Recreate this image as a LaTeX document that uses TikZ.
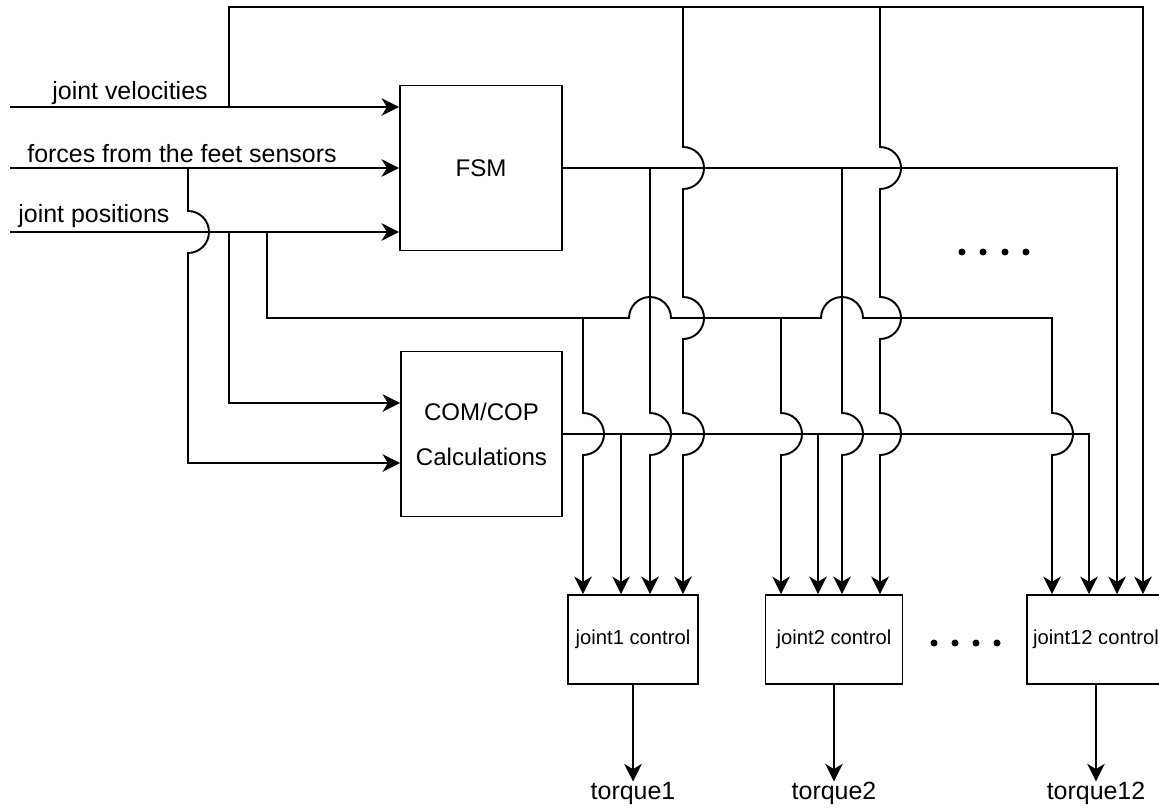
\documentclass[tikz,border=0pt]{standalone}
\usepackage{fontspec}
\setmainfont{Liberation Sans}
\usepackage{tikz}
\usetikzlibrary{arrows.meta}

\tikzset{
    block/.style={draw, line width=1pt, inner sep=0pt, align=center},
    wire/.style={line width=1.1pt},
    tag/.style={font=\fontsize{14.2}{17}\selectfont, inner sep=0pt},
    ctrl/.style={block, minimum height=1.78cm, font=\fontsize{11.5}{14}\selectfont},
}

\begin{document}
\begin{tikzpicture}[x=0.02cm, y=-0.02cm, >={Stealth[length=10pt, width=10pt, inset=3pt]}]
    \useasboundingbox (0,0) rectangle (1159,808);
    \coordinate (in1) at (10,107);
    \coordinate (in2) at (10,168);
    \coordinate (in3) at (10,232);
    \node[block, minimum width=3.24cm, minimum height=3.3cm, font=\fontsize{13.7}{16}\selectfont] (fsm) at (481,168) {FSM};
    \node[block, minimum width=3.22cm, minimum height=3.3cm, font=\fontsize{13.7}{25.6}\selectfont] (com) at (481.5,434) {COM/COP\\Calculations};
    \node[ctrl, minimum width=2.6cm] (jc1) at (633,639.5) {joint1 control};
    \node[ctrl, minimum width=2.74cm] (jc2) at (834,639.5) {joint2 control};
    \node[ctrl, minimum width=2.76cm] (jc12) at (1096,639.5) {joint12 control};
    \node[tag] (tq1) at (633,793) {torque1};
    \node[tag] (tq2) at (834,793) {torque2};
    \node[tag] (tq12) at (1096,793) {torque12};
    \node[tag, anchor=base west] (lvel) at (52,99) {joint velocities};
    \node[tag, anchor=base west] (lfrc) at (27,162) {forces from the feet sensors};
    \node[tag, anchor=base west] (lpos) at (18,222) {joint positions};

    \draw[wire, ->] (in1) -- (in1 -| fsm.west);
    \draw[wire, ->] (in2) -- (in2 -| fsm.west);
    \draw[wire, ->] (in3) -- (in3 -| fsm.west);

    \draw[wire, ->] (188,168) -- (188,211) arc[start angle=-90, end angle=90, radius=21] -- (188,463) -- (com.west |- 0,463);
    \draw[wire, ->] (229,232) -- (229,403) -- (com.west |- 0,403);

    \draw[wire, ->] (229,107) -- (229,7) -- (1143,7) -- (1143,0 |- jc12.north);
    \draw[wire, ->] (683,7) -- (683,147) arc[start angle=-90, end angle=90, radius=21] -- (683,297) arc[start angle=-90, end angle=90, radius=21] -- (683,413) arc[start angle=-90, end angle=90, radius=21] -- (683,0 |- jc1.north);
    \draw[wire, ->] (880,7) -- (880,147) arc[start angle=-90, end angle=90, radius=21] -- (880,297) arc[start angle=-90, end angle=90, radius=21] -- (880,413) arc[start angle=-90, end angle=90, radius=21] -- (880,0 |- jc2.north);

    \draw[wire, ->] (fsm.east) -- (1117,168) -- (1117,0 |- jc12.north);
    \draw[wire, ->] (650,168) -- (650,413) arc[start angle=-90, end angle=90, radius=21] -- (650,0 |- jc1.north);
    \draw[wire, ->] (842,168) -- (842,413) arc[start angle=-90, end angle=90, radius=21] -- (842,0 |- jc2.north);

    \draw[wire, ->] (267,232) -- (267,318) -- (629,318) arc[start angle=180, end angle=360, radius=21] -- (821,318) arc[start angle=180, end angle=360, radius=21] -- (1052,318) -- (1052,413) arc[start angle=-90, end angle=90, radius=21] -- (1052,0 |- jc12.north);
    \draw[wire, ->] (583,318) -- (583,413) arc[start angle=-90, end angle=90, radius=21] -- (583,0 |- jc1.north);
    \draw[wire, ->] (781,318) -- (781,413) arc[start angle=-90, end angle=90, radius=21] -- (781,0 |- jc2.north);

    \draw[wire, ->] (com.east) -- (1089,434) -- (1089,0 |- jc12.north);
    \draw[wire, ->] (621,434) -- (621,0 |- jc1.north);
    \draw[wire, ->] (818,434) -- (818,0 |- jc2.north);

    \draw[wire, ->] (jc1) -- (tq1);
    \draw[wire, ->] (jc2) -- (tq2);
    \draw[wire, ->] (jc12) -- (tq12);

    \fill (962,252) circle[radius=3.5] (983,252) circle[radius=3.5] (1005,252) circle[radius=3.5] (1026,252) circle[radius=3.5];
    \fill (934,643) circle[radius=3.5] (955,643) circle[radius=3.5] (976,643) circle[radius=3.5] (997,643) circle[radius=3.5];
\end{tikzpicture}
\end{document}
